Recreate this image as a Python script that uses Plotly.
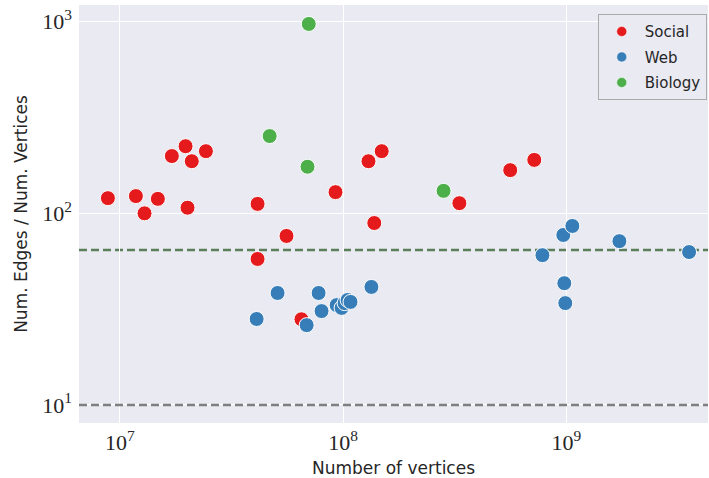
import plotly.graph_objects as go

# Social
social_x = [8.84e6, 1.18e7, 1.29e7, 1.48e7, 1.71e7, 1.97e7, 2.10e7, 2.43e7, 2.01e7,
            4.14e7, 4.14e7, 5.58e7, 6.51e7, 9.25e7, 1.30e8, 1.49e8, 1.38e8, 3.32e8,
            5.61e8, 7.19e8]
social_y = [120, 123, 100, 119, 199, 224, 187, 211, 107,
            112, 57.8, 76.2, 28.0, 129, 187, 211, 89, 113,
            168, 190]

# Web
web_x = [4.10e7, 5.09e7, 6.87e7, 7.77e7, 8.01e7, 9.36e7, 9.85e7, 1.016e8, 1.048e8,
         1.08e8, 1.34e8, 7.82e8, 9.70e8, 1.065e9, 9.80e8, 9.90e8, 1.73e9, 3.55e9]
web_y = [28.1, 38.4, 26.1, 38.4, 30.9, 33.2, 32.1, 34.0, 35.3,
         34.5, 41.3, 60.5, 77.1, 85.9, 43.2, 34.0, 71.6, 62.8]

# Biology
bio_x = [7.02e7, 4.69e7, 6.93e7, 2.82e8]
bio_y = [973, 253, 175, 131]

ref_green = 64.4
ref_gray = 10

x_tickvals = [1e7, 1e8, 1e9]
x_ticktext = ["10<sup>7</sup>", "10<sup>8</sup>", "10<sup>9</sup>"]
y_tickvals = [1e1, 1e2, 1e3]
y_ticktext = ["10<sup>1</sup>", "10<sup>2</sup>", "10<sup>3</sup>"]

colors = {"Social": "#e41a1c", "Web": "#377eb8", "Biology": "#4daf4a"}

fig = go.Figure()

# reference lines
fig.add_hline(y=ref_gray, line=dict(color="#7f7f7f", width=2.5, dash="8px,4px"), layer="above")
fig.add_hline(y=ref_green, line=dict(color="#5b7f5b", width=2.5, dash="8px,4px"), layer="below")

for name, xs, ys in [("Social", social_x, social_y), ("Web", web_x, web_y), ("Biology", bio_x, bio_y)]:
    fig.add_trace(go.Scatter(
        x=xs, y=ys, mode="markers", name=name, showlegend=False, legendgroup=name,
        marker=dict(size=15, color=colors[name], line=dict(color="white", width=1)),
    ))

# legend entries with small markers
for name in ["Social", "Web", "Biology"]:
    fig.add_trace(go.Scatter(
        x=[None], y=[None], mode="markers", name=name, legendgroup=name,
        marker=dict(size=10, color=colors[name], line=dict(color="white", width=0.5)),
    ))

font_sans = "DejaVu Sans"
font_serif = "Liberation Serif"

fig.update_layout(
    width=709, height=478,
    margin=dict(l=79, r=1, t=5, b=55, autoexpand=False),
    paper_bgcolor="white",
    plot_bgcolor="#eaeaf2",
    showlegend=True,
    legend=dict(
        x=0.998, y=0.978, xanchor="right", yanchor="top",
        bgcolor="#eaeaf2", bordercolor="#aaaaaa", borderwidth=1,
        font=dict(family=font_sans, size=15, color="#262626"),
        itemwidth=36, tracegroupgap=3,
    ),
    xaxis=dict(
        type="log", range=[6.817, 9.635],
        tickvals=x_tickvals, ticktext=x_ticktext,
        showgrid=True, gridcolor="white", gridwidth=1.2,
        zeroline=False, showline=False, ticks="",
        ticklabelstandoff=4,
        tickfont=dict(family=font_serif, size=22, color="#262626"),
        title=dict(text="Number of vertices", font=dict(family=font_sans, size=17, color="#262626"), standoff=8),
    ),
    yaxis=dict(
        type="log", range=[0.906, 3.087],
        tickvals=y_tickvals, ticktext=y_ticktext,
        showgrid=True, gridcolor="white", gridwidth=1.2,
        zeroline=False, showline=False, ticks="",
        ticklabelstandoff=6,
        tickfont=dict(family=font_serif, size=22, color="#262626"),
        title=dict(text="Num. Edges / Num. Vertices", font=dict(family=font_sans, size=17, color="#262626"), standoff=10),
    ),
)

fig.write_html("out.html", config={"displayModeBar": False},
               post_script="document.body.style.margin='0';")
